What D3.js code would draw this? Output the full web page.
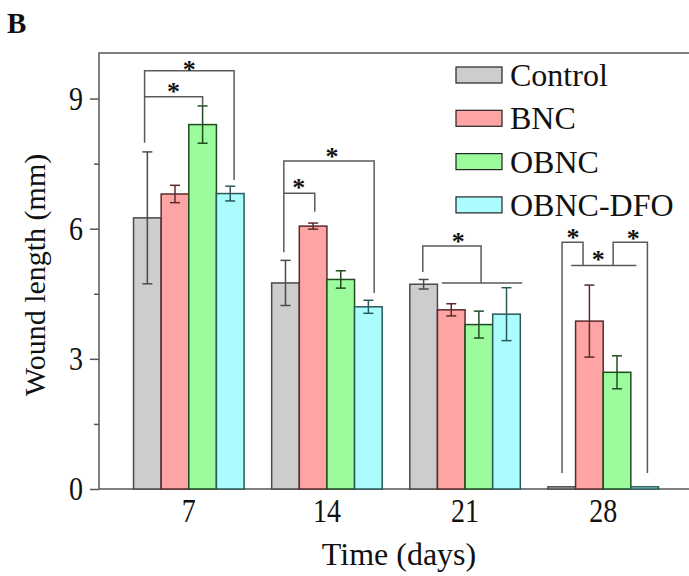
<!DOCTYPE html>
<html lang="en">
  <head>
    <meta charset="utf-8">
    <title>Wound length</title>
    <style>
      body { margin: 0; background: #fff; }
      text { font-family: "Liberation Serif", "Times New Roman", serif; fill: #111; }
    </style>
  </head>
  <body>
    <svg id="chart" width="689" height="576"></svg>
  </body>
  <script src="https://cdn.jsdelivr.net/npm/d3@7"></script>
  <script type="text/javascript">

    // data
    var days = ['7', '14', '21', '28'];
    var groups = ['Control', 'BNC', 'OBNC', 'OBNC-DFO'];
    var control = [6.25, 4.75, 4.72, 0.05];
    var controlErr = [1.52, 0.52, 0.11, 0];
    var bnc = [6.80, 6.06, 4.13, 3.87];
    var bncErr = [0.20, 0.07, 0.14, 0.83];
    var obnc = [8.40, 4.83, 3.79, 2.69];
    var obncErr = [0.43, 0.20, 0.31, 0.38];
    var dfo = [6.81, 4.20, 4.03, 0.05];
    var dfoErr = [0.17, 0.15, 0.61, 0];
    var yTicks = [0, 3, 6, 9];
    var yMinor = [1.5, 4.5, 7.5];

    var fills = ['#cdcdcd', '#ffa4a4', '#9cfb9c', '#abfdfd'];
    var strokes = ['#4a4a4a', '#5a2b2b', '#1f4d1f', '#2b5858'];

    // significance brackets: points as [slot, value], slot 0..3 = bar centres in the group
    var brackets = [
      {day: '7', pts: [[-0.1, 7.98], [-0.1, 9.64], [3.14, 9.64], [3.14, 7.12]]},
      {day: '7', pts: [[-0.1, 9.04], [2.0, 9.04], [2.0, 8.85]]},
      {day: '14', pts: [[-0.06, 5.46], [-0.06, 7.56], [3.21, 7.56], [3.21, 4.52]]},
      {day: '14', pts: [[-0.06, 6.82], [1.06, 6.82], [1.06, 6.39]]},
      {day: '21', pts: [[-0.03, 5.0], [-0.03, 5.6], [2.08, 5.6], [2.08, 4.75]]},
      {day: '21', pts: [[0.66, 4.75], [3.57, 4.75]]},
      {day: '28', pts: [[0.01, 0.37], [0.01, 5.69], [0.77, 5.69], [0.77, 5.15]]},
      {day: '28', pts: [[0.34, 5.15], [2.7, 5.15]]},
      {day: '28', pts: [[3.1, 0.37], [3.1, 5.69], [1.86, 5.69], [1.86, 5.15]]}
    ];
    var stars = [
      {day: '7', slot: 1.52, v: 9.77}, {day: '7', slot: 0.95, v: 9.27},
      {day: '14', slot: 1.68, v: 7.77}, {day: '14', slot: 0.48, v: 7.05},
      {day: '21', slot: 1.25, v: 5.81},
      {day: '28', slot: 0.41, v: 5.90}, {day: '28', slot: 1.32, v: 5.39}, {day: '28', slot: 2.59, v: 5.88}
    ];

    var series = [control, bnc, obnc, dfo];
    var errs = [controlErr, bncErr, obncErr, dfoErr];

    var svg = d3.select('#chart');
    var plotL = 99, plotR = 693, plotT = 53, plotB = 489;
    var stretch = 1.2; // tick digits in the figure are taller than plain Times

    var x = d3.scaleBand().domain(days).range([plotL, plotR]).paddingInner(0.2).paddingOuter(0.25);
    var xs = d3.scaleBand().domain(groups).range([0, x.bandwidth()]);
    var slot = d3.scaleLinear().domain([0, 4]).range([0, x.bandwidth()]);
    var y = d3.scaleLinear().domain([0, 10.05]).range([plotB, plotT]);
    function sx(day, s) { return x(day) + slot(s + 0.5); }

    // frame
    svg.append('rect').attr('x', plotL).attr('y', plotT).attr('width', plotR - plotL).attr('height', plotB - plotT)
      .attr('fill', 'none').attr('stroke', '#555').attr('stroke-width', 1.5);

    // bars
    var rows = [];
    days.forEach(function(d, i) {
      groups.forEach(function(g, j) {
        rows.push({day: d, group: g, k: j, v: series[j][i], e: errs[j][i]});
      });
    });
    svg.append('g').selectAll('rect').data(rows).enter().append('rect')
      .attr('x', function(d) { return x(d.day) + xs(d.group); })
      .attr('y', function(d) { return y(d.v); })
      .attr('width', xs.bandwidth())
      .attr('height', function(d) { return y(0) - y(d.v); })
      .attr('fill', function(d) { return fills[d.k]; })
      .attr('stroke', function(d) { return strokes[d.k]; })
      .attr('stroke-width', 1.5);

    // error bars
    var eb = svg.append('g').selectAll('g').data(rows.filter(function(d) { return d.e > 0; })).enter().append('g')
      .attr('stroke', function(d) { return strokes[d.k]; }).attr('stroke-width', 1.5);
    eb.append('line')
      .attr('x1', function(d) { return x(d.day) + xs(d.group) + xs.bandwidth() / 2; })
      .attr('x2', function(d) { return x(d.day) + xs(d.group) + xs.bandwidth() / 2; })
      .attr('y1', function(d) { return y(d.v + d.e); })
      .attr('y2', function(d) { return y(d.v - d.e); });
    [1, -1].forEach(function(sg) {
      eb.append('line')
        .attr('x1', function(d) { return x(d.day) + xs(d.group) + xs.bandwidth() / 2 - 5; })
        .attr('x2', function(d) { return x(d.day) + xs(d.group) + xs.bandwidth() / 2 + 5; })
        .attr('y1', function(d) { return y(d.v + sg * d.e); })
        .attr('y2', function(d) { return y(d.v + sg * d.e); });
    });

    // brackets and stars
    var line = d3.line();
    svg.append('g').selectAll('path').data(brackets).enter().append('path')
      .attr('d', function(b) { return line(b.pts.map(function(p) { return [sx(b.day, p[0]), y(p[1])]; })); })
      .attr('fill', 'none').attr('stroke', '#5a5a5a').attr('stroke-width', 1.5);
    svg.append('g').selectAll('text').data(stars).enter().append('text')
      .attr('x', function(s) { return sx(s.day, s.slot); })
      .attr('y', function(s) { return y(s.v) + 13; })
      .attr('text-anchor', 'middle').attr('font-size', 26).attr('font-weight', 'bold')
      .text('*');

    // axes
    var ya = svg.append('g').attr('transform', 'translate(' + plotL + ',0)')
      .call(d3.axisLeft(y).tickValues(yTicks).tickSize(9).tickSizeOuter(0).tickPadding(7));
    svg.append('g').attr('transform', 'translate(' + plotL + ',0)')
      .call(d3.axisLeft(y).tickValues(yMinor).tickSize(5).tickFormat(''))
      .select('.domain').remove();
    ya.select('.domain').remove();
    svg.selectAll('.tick line').attr('stroke', '#555').attr('stroke-width', 1.5);
    ya.selectAll('.tick text').attr('font-size', 28).attr('font-family', '"Liberation Serif", serif')
      .attr('fill', '#111').attr('transform', 'scale(1,' + stretch + ')');

    var xa = svg.append('g').attr('transform', 'translate(0,' + plotB + ')')
      .call(d3.axisBottom(x).tickSize(0));
    xa.select('.domain').remove();
    xa.selectAll('.tick text').attr('font-size', 28).attr('font-family', '"Liberation Serif", serif')
      .attr('fill', '#111').attr('y', 33 / stretch).attr('dy', 0)
      .attr('transform', 'scale(1,' + stretch + ')');

    // titles
    svg.append('text').attr('x', (plotL + plotR) / 2 + 3).attr('y', 565).attr('text-anchor', 'middle')
      .attr('font-size', 32).text('Time (days)');
    svg.append('text').attr('transform', 'translate(45,275) rotate(-90)').attr('text-anchor', 'middle')
      .attr('font-size', 30).text('Wound length (mm)');
    svg.append('text').attr('x', 7).attr('y', 33).attr('font-size', 29).attr('font-weight', 'bold').text('B');

    // legend
    var lg = svg.append('g').selectAll('g').data(groups).enter().append('g')
      .attr('transform', function(d, i) { return 'translate(456,' + (67 + i * 43.3) + ')'; });
    lg.append('rect').attr('width', 46).attr('height', 16)
      .attr('fill', function(d, i) { return fills[i]; }).attr('stroke', '#222').attr('stroke-width', 1.2);
    lg.append('text').attr('x', 54).attr('y', 19).attr('font-size', 32).text(function(d) { return d; });

  </script>
</html>
